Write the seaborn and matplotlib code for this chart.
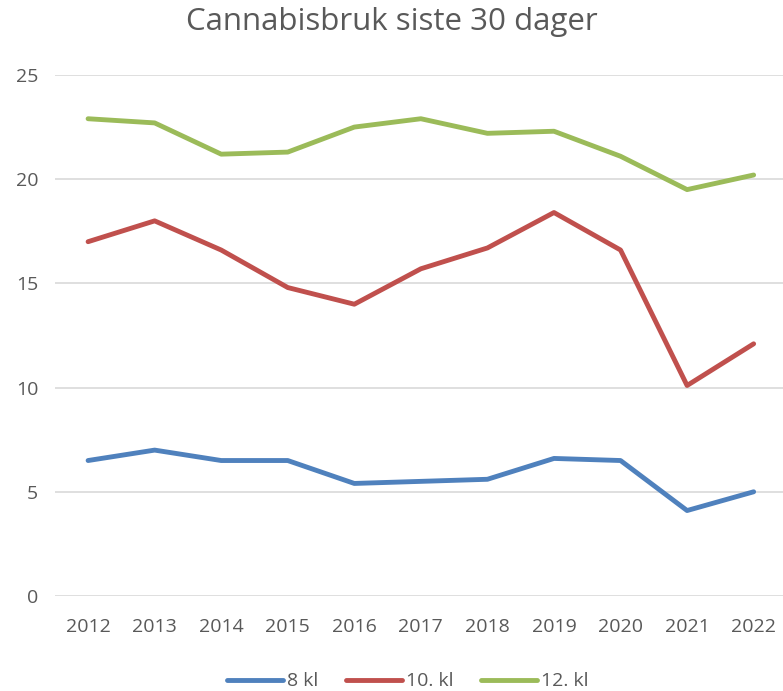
import pandas as pd
import matplotlib
matplotlib.use('Agg')
import matplotlib.pyplot as plt
import seaborn as sns

# ── Data ────────────────────────────────────────────────────────────────────
years = ['2012', '2013', '2014', '2015', '2016', '2017', '2018', '2019', '2020', '2021', '2022']
kl8  = [6.5, 7.0, 6.5, 6.5, 5.4, 5.5, 5.6, 6.6, 6.5, 4.1, 5.0]
kl10 = [17.0, 18.0, 16.6, 14.8, 14.0, 15.7, 16.7, 18.4, 16.6, 10.1, 12.1]
kl12 = [22.9, 22.7, 21.2, 21.3, 22.5, 22.9, 22.2, 22.3, 21.1, 19.5, 20.2]
series_names = ['8 kl', '10. kl', '12. kl']
colors = ['#4F81BD', '#C0504D', '#9BBB59']

df = pd.DataFrame({'year': years * 3,
                   'value': kl8 + kl10 + kl12,
                   'series': sum([[s] * len(years) for s in series_names], [])})
df['x'] = df['year'].map({y: i for i, y in enumerate(years)})

# ── Plot ────────────────────────────────────────────────────────────────────
sns.set_style('white')
plt.rcParams['font.family'] = ['Open Sans', 'DejaVu Sans']
text_col = '#595959'

fig = plt.figure(figsize=(7.83, 6.91), dpi=100)
ax = fig.add_axes([0.070, 0.1375, 0.935, 0.754])

sns.lineplot(data=df, x='x', y='value', hue='series', hue_order=series_names,
             palette=colors, linewidth=3.5, ax=ax, legend=True)

ax.set_xlim(-0.5, len(years) - 0.5)
ax.set_ylim(0, 25)
ax.set_yticks([0, 5, 10, 15, 20, 25])
ax.set_xticks(range(len(years)))
ax.set_xticklabels(years)
ax.tick_params(axis='both', labelsize=14, colors=text_col, length=0)
ax.tick_params(axis='x', pad=16)
ax.tick_params(axis='y', pad=12)
ax.yaxis.grid(True, color='#D9D9D9', linewidth=1.2)
ax.set_axisbelow(True)
for s in ax.spines.values():
    s.set_visible(False)
ax.set_xlabel('')
ax.set_ylabel('')

fig.suptitle('Cannabisbruk siste 30 dager', fontsize=22.5, color=text_col, y=0.99)

handles, labels = ax.get_legend_handles_labels()
ax.legend(handles, labels, loc='upper center', bbox_to_anchor=(0.482, -0.113),
          ncol=3, frameon=False, fontsize=14, labelcolor=text_col,
          handlelength=2.9, columnspacing=1.4, handletextpad=0.2)

plt.savefig('out.png', dpi=100)
